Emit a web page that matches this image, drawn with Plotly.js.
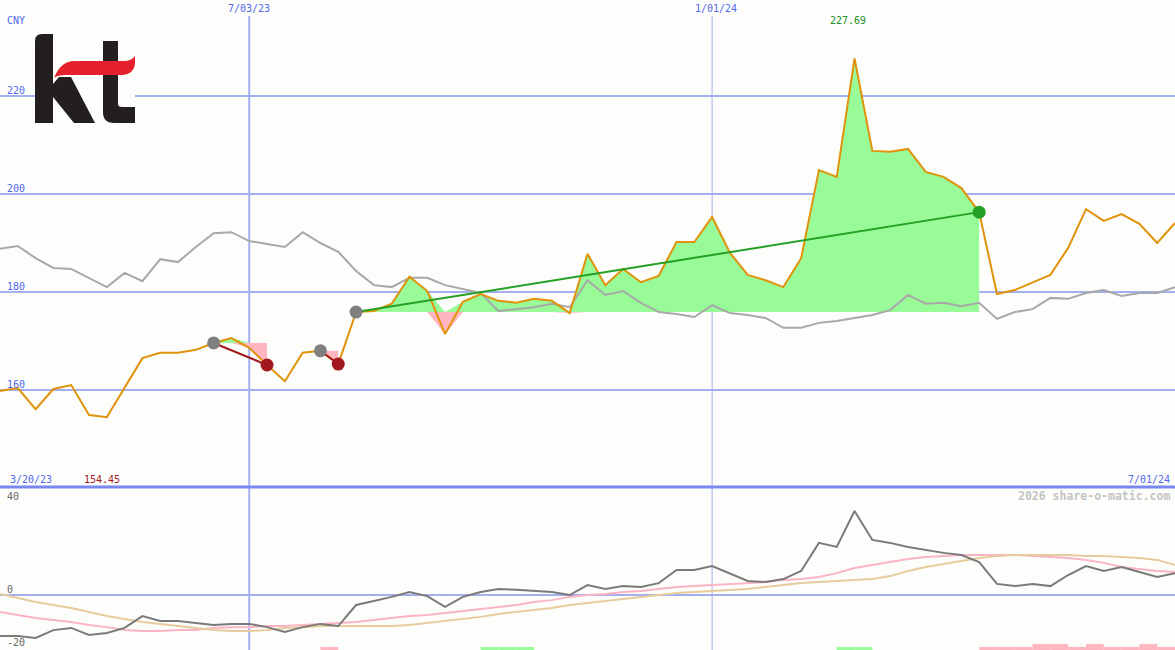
<!DOCTYPE html>
<html>
<head>
<meta charset="utf-8">
<script src="https://cdn.plot.ly/plotly-3.0.1.min.js"></script>
<style>
  html, body { margin: 0; padding: 0; background: #fdfefb; }
  #chart { width: 1175px; height: 650px; }
</style>
</head>
<body>
<div id="chart"></div>
<script>
// ---------------- DATA (weekly, first week 2023-03-27) ----------------
const startWeek = '2023-03-27';
const price = [159.8,160.4,156.1,160.2,161.0,154.9,154.45,160.4,166.5,167.6,
  167.6,168.2,169.6,170.6,168.6,165.1,161.8,167.6,168.0,165.3,
  175.9,176.1,177.6,183.1,180.2,171.4,178.0,179.6,178.2,177.8,
  178.6,178.2,175.7,187.8,181.4,184.7,182.0,183.3,190.2,190.2,
  195.3,188.0,183.5,182.4,181.0,186.9,204.9,203.5,227.69,208.8,
  208.6,209.2,204.5,203.5,201.2,196.3,179.6,180.4,182.0,183.5,
  189.0,196.9,194.5,195.9,193.9,190.0,194.1];
const benchmark = [188.8,189.4,186.9,184.9,184.7,182.9,181.0,183.9,182.2,186.7,
  186.1,189.2,192.0,192.2,190.4,189.8,189.2,192.2,190.0,188.2,
  184.3,181.4,181.0,182.9,182.9,181.4,180.6,179.8,176.1,176.5,
  176.9,177.6,176.9,182.4,179.4,180.2,177.8,175.9,175.5,174.9,
  177.3,175.7,175.3,174.7,172.7,172.7,173.7,174.1,174.7,175.3,
  176.3,179.4,177.6,177.8,177.1,177.8,174.5,175.9,176.5,178.8,
  178.6,179.8,180.4,179.2,179.8,179.8,181.0];
const momentum = [-15.2,-15.2,-15.9,-13.0,-12.2,-14.8,-14.1,-12.2,-7.8,-9.6,
  -9.6,-10.4,-11.1,-10.7,-10.7,-11.9,-13.7,-11.9,-10.7,-11.5,
  -3.7,-2.2,-0.7,1.1,-0.4,-4.4,-0.7,1.1,2.2,1.9,
  1.5,1.1,0.0,3.7,2.2,3.3,3.0,4.4,9.3,9.3,
  10.7,7.8,5.2,4.8,5.9,8.9,19.3,17.8,31.1,20.4,
  19.3,17.8,16.7,15.6,14.8,12.2,4.1,3.3,4.1,3.3,
  7.4,10.7,8.9,10.4,8.5,6.7,8.1];
const maFast = [-6.3,-7.4,-8.5,-9.3,-10.0,-11.1,-11.9,-13.0,-13.3,-13.3,
  -13.0,-13.0,-12.2,-11.9,-11.9,-11.5,-11.5,-11.1,-10.7,-10.4,
  -10.0,-9.3,-8.5,-7.8,-7.4,-6.7,-5.9,-5.2,-4.4,-3.7,
  -2.6,-1.9,-0.7,0.0,0.4,1.1,1.5,2.2,3.0,3.3,
  3.7,4.1,4.4,4.8,5.6,5.9,6.7,8.1,10.0,11.1,
  12.2,13.3,14.1,14.4,14.8,14.8,14.8,14.8,14.4,14.1,
  13.7,13.0,11.9,10.4,9.6,8.9,8.5];
const maSlow = [0.4,-1.1,-2.6,-3.7,-4.8,-6.3,-7.8,-8.9,-10.0,-10.7,
  -11.5,-12.2,-13.0,-13.3,-13.3,-13.0,-12.2,-11.9,-11.5,-11.5,
  -11.5,-11.5,-11.5,-11.1,-10.4,-9.6,-8.9,-8.1,-7.0,-6.3,
  -5.6,-4.8,-3.7,-3.0,-2.2,-1.5,-0.7,0.0,0.7,1.1,
  1.5,1.9,2.2,3.0,3.7,4.4,4.8,5.2,5.6,5.9,
  7.0,8.9,10.4,11.5,12.6,13.7,14.4,14.8,14.8,14.8,
  14.8,14.4,14.4,14.1,13.7,13.0,11.1];

// trades
const tradeStart = ['2023-06-19','2023-07-31','2023-08-14'];
const tradeEnd   = ['2023-07-10','2023-08-07','2024-04-15'];

// signal bars at bottom of lower panel
const sigGreenDates = ['2023-10-02','2023-10-09','2023-10-16','2024-02-19','2024-02-26'];
const sigGreenVals  = [1.1,1.1,1.1,1.1,1.1];
const sigPinkDates  = ['2023-07-31','2024-04-15','2024-04-22','2024-04-29','2024-05-06','2024-05-13',
  '2024-05-20','2024-05-27','2024-06-03','2024-06-10','2024-06-17','2024-06-24'];
const sigPinkVals   = [1.1,1.1,1.1,1.1,2.2,2.2,1.1,2.2,1.1,1.1,2.2,1.1];

const yTicksMain = [160,180,200,220];
const yTicksLow = [40,0,-20];
const xGridDates = ['2023-07-03','2024-01-01'];
const xGridLabels = ['7/03/23','1/01/24'];

// ---------------- BUILD ----------------
function weekDate(i){
  const d = new Date(startWeek + 'T00:00:00Z');
  d.setUTCDate(d.getUTCDate() + 7*i);
  return d.toISOString().slice(0,10);
}
const dates = price.map((_, i) => weekDate(i));

const W = 1175, H = 650;
const splitPx = 487;
const lowDomTop = (H - splitPx) / H;
const mainRange = [160 - (H*0 + 97)/4.9, 220 + 96/4.9];
const lowRange = [-(650-595)/2.7, (595-487)/2.7];

const BLUE = '#5068ee';
const GRID = '#a3aff0';
const GREENFILL = '#98fb98';
const PINKFILL = '#ffb6c1';
const FONT = 'DejaVu Sans Mono, monospace';

const traces = [];

// trade fills
tradeStart.forEach((s, k) => {
  const a = dates.indexOf(s), b = dates.indexOf(tradeEnd[k]);
  const xs = dates.slice(a, b+1);
  const base = price[a];
  const baseArr = xs.map(() => base);
  const up = price.slice(a, b+1).map(v => Math.max(v, base));
  const dn = price.slice(a, b+1).map(v => Math.min(v, base));
  traces.push({x: xs, y: baseArr, mode:'lines', line:{width:0, color:'rgba(0,0,0,0)'}, hoverinfo:'skip', xaxis:'x', yaxis:'y'});
  traces.push({x: xs, y: up, mode:'lines', fill:'tonexty', fillcolor:GREENFILL, line:{width:0, color:'rgba(0,0,0,0)'}, hoverinfo:'skip'});
  traces.push({x: xs, y: baseArr, mode:'lines', line:{width:0, color:'rgba(0,0,0,0)'}, hoverinfo:'skip'});
  traces.push({x: xs, y: dn, mode:'lines', fill:'tonexty', fillcolor:PINKFILL, line:{width:0, color:'rgba(0,0,0,0)'}, hoverinfo:'skip'});
});

// benchmark
traces.push({x: dates, y: benchmark, mode:'lines', line:{color:'#a8a8a8', width:2}});
// price
traces.push({x: dates, y: price, mode:'lines', line:{color:'#e0920a', width:2}});

// trade lines & markers
tradeStart.forEach((s, k) => {
  const a = dates.indexOf(s), b = dates.indexOf(tradeEnd[k]);
  const win = price[b] > price[a];
  const col = win ? '#24a024' : '#a3181c';
  traces.push({x:[dates[a], dates[b]], y:[price[a], price[b]], mode:'lines', line:{color:col, width:2}});
  traces.push({x:[dates[a]], y:[price[a]], mode:'markers', marker:{color:'#808080', size:13}});
  traces.push({x:[dates[b]], y:[price[b]], mode:'markers', marker:{color:col, size:13}});
});

// lower panel
traces.push({x: sigGreenDates, y: sigGreenVals, base: lowRange[0], type:'bar', offset:0, width:7*86400000,
  marker:{color:GREENFILL, line:{width:0}}, xaxis:'x', yaxis:'y2'});
traces.push({x: sigPinkDates, y: sigPinkVals, base: lowRange[0], type:'bar', offset:0, width:7*86400000,
  marker:{color:PINKFILL, line:{width:0}}, xaxis:'x', yaxis:'y2'});
traces.push({x: dates, y: maFast, mode:'lines', line:{color:'#fbb4c4', width:2}, xaxis:'x', yaxis:'y2'});
traces.push({x: dates, y: maSlow, mode:'lines', line:{color:'#e6cc9c', width:2}, xaxis:'x', yaxis:'y2'});
traces.push({x: dates, y: momentum, mode:'lines', line:{color:'#7a7a7a', width:2}, xaxis:'x', yaxis:'y2'});

traces.forEach(t => { t.showlegend = false; if (!t.hoverinfo) t.hoverinfo = 'skip'; });

// shapes
const shapes = [];
xGridDates.forEach((d, k) => {
  shapes.push({type:'line', xref:'x', yref:'paper', x0:d, x1:d, y0:0, y1:1 - 16/H,
    line:{color:GRID, width: k === 0 ? 2 : 1}, layer:'below'});
});
shapes.push({type:'line', xref:'paper', yref:'paper', x0:0, x1:1, y0:lowDomTop, y1:lowDomTop,
  line:{color:'#7888f0', width:3}, layer:'above'});

// annotations
function ann(text, px, py, color, xanchor, opts){
  return Object.assign({text, xref:'paper', yref:'paper', x: px/W, y: 1 - py/H,
    xanchor: xanchor || 'left', yanchor:'middle', showarrow:false,
    font:{family:FONT, size:10, color: color}}, opts || {});
}
const annotations = [];
annotations.push(ann('CNY', 5, 20, BLUE));
yTicksMain.forEach(v => {
  annotations.push({text:String(v), xref:'paper', yref:'y', x:5/W, y:v, xanchor:'left', yanchor:'bottom',
    yshift:-2, showarrow:false, font:{family:FONT, size:10, color:BLUE}});
});
xGridDates.forEach((d, k) => {
  annotations.push({text:xGridLabels[k], xref:'x', yref:'paper', x:d, y:1 - 9/H, xanchor:'center', yanchor:'middle',
    xshift: k === 0 ? 0 : 4, showarrow:false, font:{family:FONT, size:10, color:BLUE}});
});
const peakIdx = price.indexOf(Math.max(...price));
annotations.push({text: price[peakIdx].toFixed(2), xref:'x', yref:'paper', x: dates[peakIdx], y: 1 - 21/H,
  xanchor:'center', yanchor:'middle', xshift:-7, showarrow:false, font:{family:FONT, size:10, color:'#249024'}});
const minIdx = price.indexOf(Math.min(...price));
annotations.push(ann('3/20/23', 8, 479, BLUE));
annotations.push(ann(price[minIdx].toFixed(2), 82, 479, '#a3181c'));
annotations.push(ann('7/01/24', 1172, 479, BLUE, 'right'));
yTicksLow.forEach(v => {
  const py = v === 40 ? 496 : (v === 0 ? 589 : 642);
  annotations.push(ann(String(v), 5, py, '#666666'));
});
annotations.push(ann('<b>2026 share-o-matic.com</b>', 1172, 496, '#c4c4c4', 'right', {font:{family:FONT, size:11.5, color:'#c4c4c4'}}));

// logo (kt)
const logoSvg = '<svg xmlns="http://www.w3.org/2000/svg" width="100" height="90" viewBox="0 0 100 90">' +
  '<rect x="0" y="0" width="100" height="90" fill="#fdfefb"/>' +
  '<path d="M0,7 Q0,0 7,0 L18,0 L18,89 L0,89 Z" fill="#231f20"/>' +
  '<path d="M18,50 L24,43 L36,43 L60,89 L39,89 L18,63 Z" fill="#231f20"/>' +
  '<path d="M68,7 L83,7 L83,70 Q83,73 87,73 L100,73 L100,89 L79,89 Q68,89 68,78 Z" fill="#231f20"/>' +
  '<path d="M19,44 C23,34 29,27 40,27 L88,27 C94,27 98,25 100,22 L100,30 C99,37 94,41 87,41 L31,41 C25,41 21,42 19,44 Z" fill="#e4202a"/>' +
  '</svg>';
const images = [{
  source: 'data:image/svg+xml;charset=utf-8,' + encodeURIComponent(logoSvg),
  xref:'paper', yref:'paper', x: 35/W, y: 1 - 34/H, sizex: 100/W, sizey: 90/H,
  xanchor:'left', yanchor:'top', sizing:'stretch', layer:'above'
}];

const layout = {
  width: W, height: H,
  margin: {l:0, r:0, t:0, b:0, pad:0},
  paper_bgcolor: '#fdfefb', plot_bgcolor: '#fdfefb',
  showlegend: false,
  barmode: 'overlay',
  xaxis: {type:'date', range:[startWeek, '2024-07-01'], domain:[0,1], showgrid:false, zeroline:false,
    showticklabels:false, showline:false, ticks:'', fixedrange:true},
  yaxis: {domain:[lowDomTop, 1], range:[mainRange[0], mainRange[1]], tickvals: yTicksMain, showticklabels:false,
    showgrid:true, gridcolor:GRID, gridwidth:2, zeroline:false, showline:false, ticks:'', fixedrange:true},
  yaxis2: {domain:[0, lowDomTop], range: lowRange, tickvals:[0], showticklabels:false,
    showgrid:true, gridcolor:GRID, gridwidth:2, zeroline:false, showline:false, ticks:'', fixedrange:true},
  shapes, annotations, images
};

Plotly.newPlot('chart', traces, layout, {staticPlot:true, displayModeBar:false});
</script>
</body>
</html>
